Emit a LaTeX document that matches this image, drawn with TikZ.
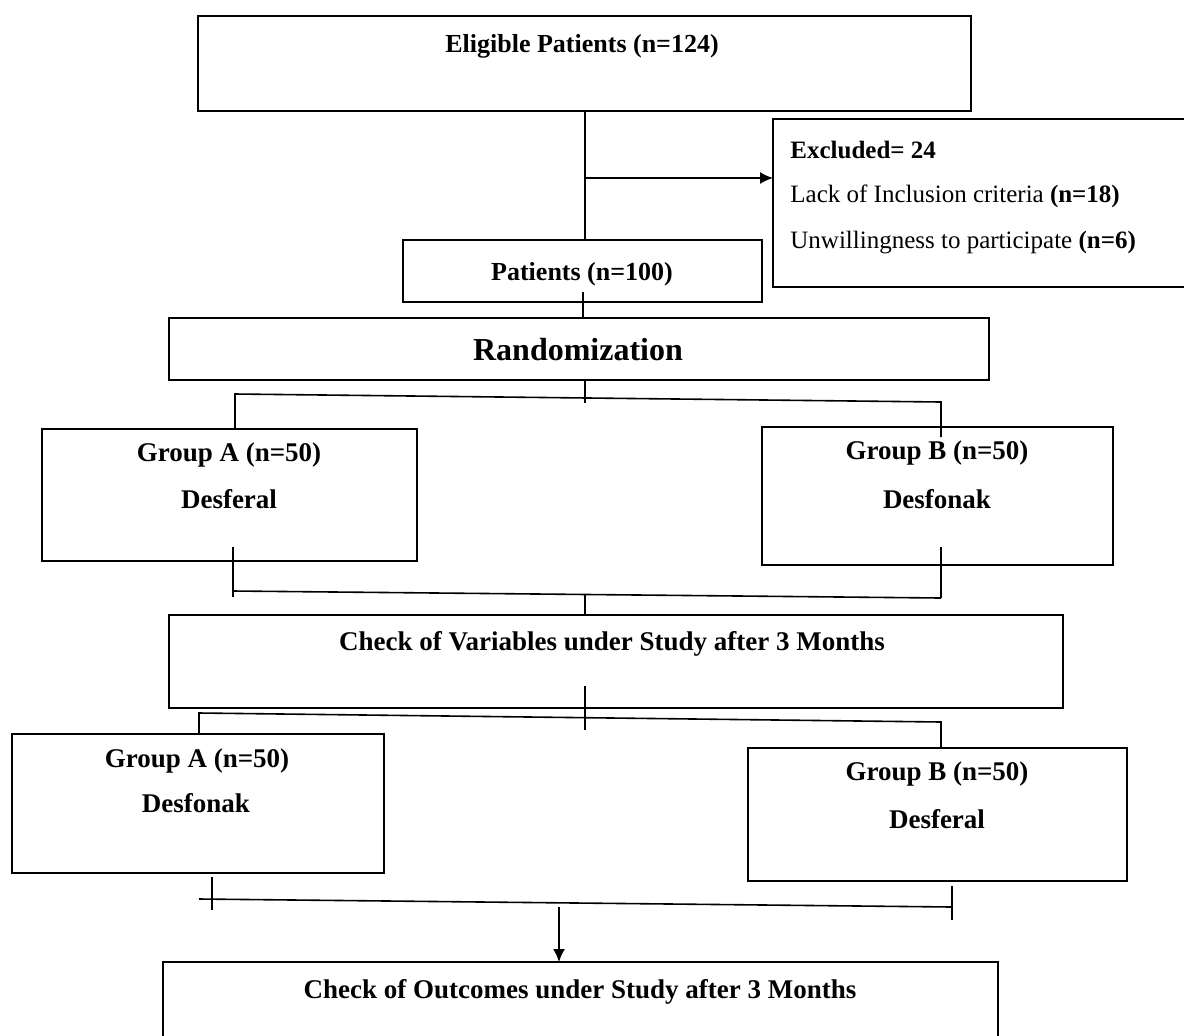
\documentclass[tikz,border=0pt]{standalone}
\usepackage{fontspec}
\setmainfont{Liberation Serif}
\usetikzlibrary{arrows.meta}
\begin{document}
\begin{tikzpicture}[x=0.5pt,y=-0.5pt,
  box/.style 2 args={draw, line width=0.9pt, minimum width=#1*0.5pt, minimum height=#2*0.5pt, inner sep=0pt, outer sep=0pt},
  lbl/.style={anchor=base, inner sep=0pt, font=\fontsize{13.5}{16}\selectfont\bfseries},
  lblsm/.style={anchor=base, inner sep=0pt, font=\fontsize{13}{16}\selectfont\bfseries},
  lblbig/.style={anchor=base, inner sep=0pt, font=\fontsize{16}{19}\selectfont\bfseries},
  txt/.style={anchor=base west, inner sep=0pt, font=\fontsize{12.5}{15}\selectfont},
  conn/.style={line width=0.8pt},
  arr/.style={conn, -{Latex[length=6.5pt,width=6pt]}}
]
\useasboundingbox (0,0) rectangle (1184,1035);

% boxes
\node[box={773}{95}]  (elig) at (584.5,63.5) {};
\node[box={422}{168}] (excl) at (984,203) {};
\node[box={359}{62}]  (pat)  at (582.5,271) {};
\node[box={820}{62}]  (rand) at (579,349) {};
\node[box={375}{132}] (ga1)  at (229.5,495) {};
\node[box={351}{138}] (gb1)  at (937.5,496) {};
\node[box={894}{93}]  (chk)  at (616,661.5) {};
\node[box={372}{139}] (ga2)  at (198,803.5) {};
\node[box={379}{133}] (gb2)  at (937.5,814.5) {};
\node[box={835}{83}]  (out)  at (580.5,1003.5) {};

% texts
\node[lblsm] (teli) at (582,52) {Eligible Patients (n=124)};
\node[txt, font=\fontsize{12.5}{15}\selectfont\bfseries] (tex1) at (790,158) {Excluded= 24};
\node[txt] (tex2) at (790,202) {Lack of Inclusion criteria \textbf{(n=18)}};
\node[txt] (tex3) at (790,248) {Unwillingness to participate \textbf{(n=6)}};
\node[lblsm] (tpat) at (582,280) {Patients (n=100)};
\node[lblbig] (trand) at (578,360) {Randomization};
\node[lbl] (ta1a) at (229,461) {Group A (n=50)};
\node[lbl] (ta1b) at (229,508) {Desferal};
\node[lbl] (tb1a) at (937,459) {Group B (n=50)};
\node[lbl] (tb1b) at (937,508) {Desfonak};
\node[lbl] (tchk) at (612,650) {Check of Variables under Study after 3 Months};
\node[lbl] (ta2a) at (197,767) {Group A (n=50)};
\node[lbl] (ta2b) at (196,812) {Desfonak};
\node[lbl] (tb2a) at (937,780) {Group B (n=50)};
\node[lbl] (tb2b) at (937,828) {Desferal};
\node[lbl] (tout) at (580,998) {Check of Outcomes under Study after 3 Months};

% connectors: eligible -> patients, excluded
\coordinate (c1) at (585,178);
\draw[conn] (elig.south -| c1) -- (c1 |- pat.north);
\draw[arr] (c1) -- (c1 -| excl.west);
\coordinate (p1) at (583,292);
\draw[conn] (p1) -- (p1 |- rand.north);

% randomization branch
\coordinate (r0) at (585,403);
\coordinate (rL) at (235,394);
\coordinate (rR) at (941,402);
\coordinate (rRe) at (941,437);
\draw[conn] (r0 |- rand.south) -- (r0);
\draw[conn] (rL |- ga1.north) -- (rL) -- (rR) -- (rRe);

% merge after first groups
\coordinate (aL1) at (233,547);
\coordinate (aL2) at (233,597);
\coordinate (bR1) at (941,547);
\coordinate (bR2) at (941,598);
\coordinate (hL) at (233,591);
\coordinate (hR) at (941,598);
\coordinate (m1) at (585,594);
\draw[conn] (aL1) -- (aL2);
\draw[conn] (bR1) -- (bR2);
\draw[conn] (hL) -- (hR);
\draw[conn] (m1) -- (m1 |- chk.north);

% check branch
\coordinate (m2) at (585,686);
\coordinate (m3) at (585,730);
\coordinate (kL) at (199,713);
\coordinate (kR) at (941,722);
\draw[conn] (m2) -- (m3);
\draw[conn] (kL |- ga2.north) -- (kL) -- (kR) -- (kR |- gb2.north);

% final merge
\coordinate (qL1) at (212,877);
\coordinate (qL2) at (212,910);
\coordinate (qR1) at (952,886);
\coordinate (qR2) at (952,920);
\coordinate (hL2) at (199,899);
\coordinate (hR2) at (952,907);
\coordinate (q0) at (559,907);
\draw[conn] (qL1) -- (qL2);
\draw[conn] (qR1) -- (qR2);
\draw[conn] (hL2) -- (hR2);
\draw[arr] (q0) -- (q0 |- out.north);
\end{tikzpicture}
\end{document}
